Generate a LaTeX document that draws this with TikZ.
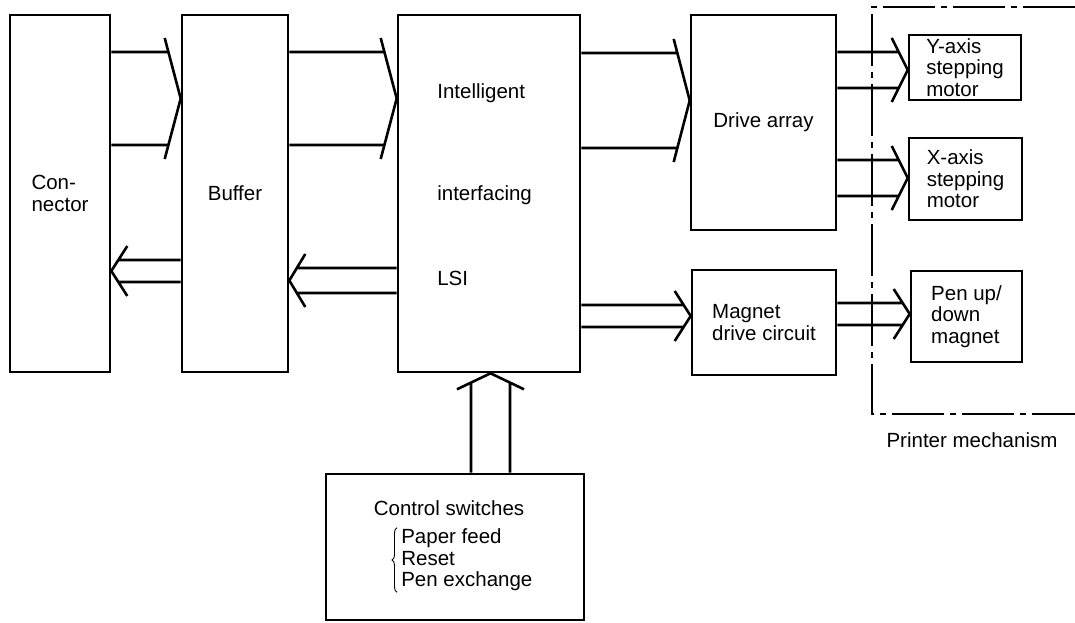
\documentclass[tikz,border=0pt]{standalone}
\usepackage{fontspec}
\setmainfont{Liberation Sans}
\usetikzlibrary{calc, decorations.pathreplacing}

% two-line bus with open chevron tip, pointing east / west
\newcommand{\busE}[4]{%
  \draw let \p1=(#1.east), \p2=(#2.west), \n1={abs(#3-#4)/2}, \n2={16*\n1/(\n1+14)},
            \n3={(#3+#4)/2}, \n4={\n1+14} in
    (\x1,-#3pt) -- (\x2-\n2pt,-#3pt)
    (\x1,-#4pt) -- (\x2-\n2pt,-#4pt)
    (\x2-16pt,-\n3pt+\n4pt) -- (\x2,-\n3pt) -- (\x2-16pt,-\n3pt-\n4pt);}
\newcommand{\busW}[4]{%
  \draw let \p1=(#1.west), \p2=(#2.east), \n1={abs(#3-#4)/2}, \n2={16*\n1/(\n1+14)},
            \n3={(#3+#4)/2}, \n4={\n1+14} in
    (\x1,-#3pt) -- (\x2+\n2pt,-#3pt)
    (\x1,-#4pt) -- (\x2+\n2pt,-#4pt)
    (\x2+16pt,-\n3pt+\n4pt) -- (\x2,-\n3pt) -- (\x2+16pt,-\n3pt-\n4pt);}

\begin{document}
\begin{tikzpicture}[x=1pt, y=-1pt, line width=2.6pt,
  box/.style={draw, inner sep=0pt, align=left, font=\fontsize{20.5}{21.5}\selectfont},
  txt/.style={inner sep=0pt, align=left, font=\fontsize{20.5}{21.5}\selectfont},
  mech/.style={line width=2.2pt, dash pattern=on 52pt off 6pt on 6pt off 6pt}]
\useasboundingbox (0,0) rectangle (1075,623);

% blocks
\node[box, minimum width=100, minimum height=357] (conn) at (60,193.5) {Con-\\nector};
\node[box, minimum width=106, minimum height=357] (buf) at (235,193.5) {Buffer};
\node[box, minimum width=182, minimum height=357] (lsi) at (489,193.5) {};
\node[txt, anchor=west] (lsi1) at (436,93) {Intelligent};
\node[txt, anchor=west] (lsi2) at (436,195) {interfacing};
\node[txt, anchor=west] (lsi3) at (436,278) {LSI};
\node[box, minimum width=145, minimum height=215] (drive) at (763.5,122.5) {Drive array};
\node[box, minimum width=144, minimum height=105] (mag) at (764,322.5) {Magnet\\drive circuit};
\node[box, minimum width=112, minimum height=65] (yax) at (965,67.5) {Y-axis\\stepping\\motor};
\node[box, minimum width=113, minimum height=82] (xax) at (965.5,179) {X-axis\\stepping\\motor};
\node[box, minimum width=111, minimum height=91] (pen) at (966.5,316.5) {Pen up/\\down\\magnet};
\node[box, minimum width=258, minimum height=146] (ctrl) at (455,547) {};
\node[txt] (ctrlttl) at (449,508) {Control switches};
\node[txt, anchor=west] (ctrllist) at (400,560) {Paper feed\\Reset\\Pen exchange};
\draw[line width=0.9pt, decorate, decoration={brace, amplitude=5pt}]
  ([xshift=-3pt]ctrllist.south west) -- ([xshift=-3pt]ctrllist.north west);

% buses
\busE{conn}{buf}{52}{145}
\busE{buf}{lsi}{52}{145}
\busW{buf}{conn}{260}{282}
\busW{lsi}{buf}{268}{293}
\busE{lsi}{drive}{53}{148}
\busE{lsi}{mag}{305}{327}
\busE{drive}{yax}{52}{88}
\busE{drive}{xax}{160}{196}
\busE{mag}{pen}{303}{325}
\draw let \p1=(ctrl.north), \p2=(lsi.south) in
  (471pt,\y1) -- (471pt,\y2-9pt)
  (510pt,\y1) -- (510pt,\y2-9pt)
  (457pt,\y2-16pt) -- (490.5pt,\y2) -- (524pt,\y2-16pt);

% printer mechanism boundary
\draw[mech] (1075,7) -- (872,7) -- (872,414) -- (1075,414);
\node[txt] (mechlbl) at (972,440) {Printer mechanism};
\end{tikzpicture}
\end{document}
